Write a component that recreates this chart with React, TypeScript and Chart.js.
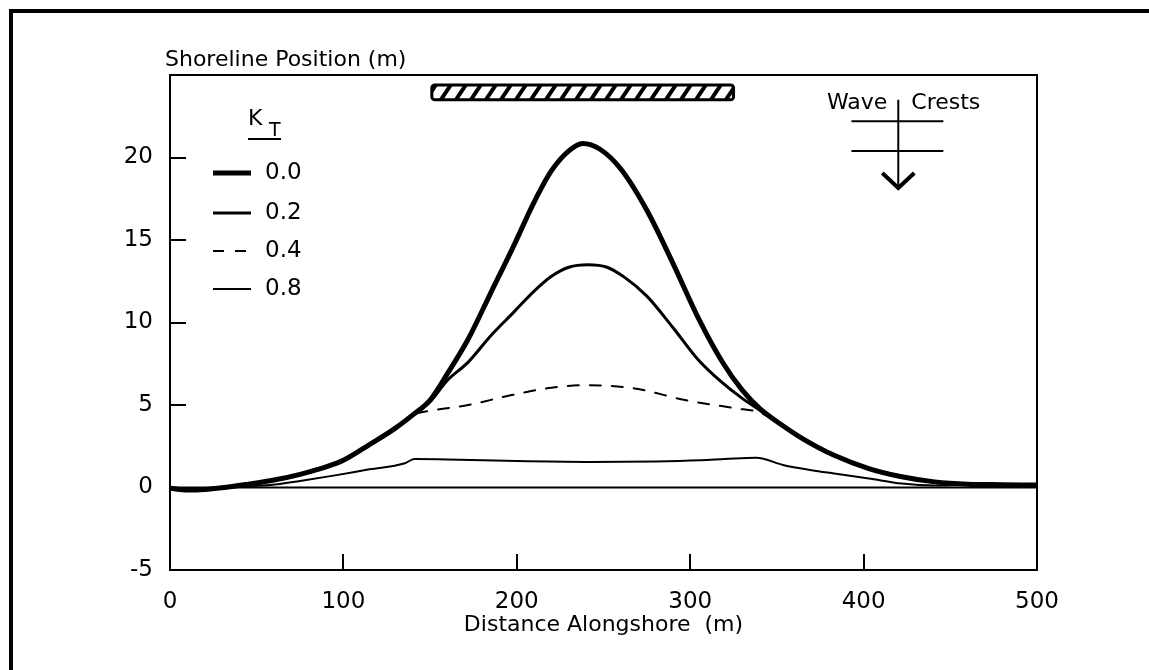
import React, { useEffect, useRef } from 'react';
import { Chart, registerables } from 'chart.js';

Chart.register(...registerables);

const FONT = '"DejaVu Sans", "Noto Sans", sans-serif';

// ---- axis ticks ----
const X_TICKS = [0, 100, 200, 300, 400, 500];
const Y_TICKS = [-5, 0, 5, 10, 15, 20];
const INNER_X_TICKS = [100, 200, 300, 400];
const INNER_Y_TICKS = [5, 10, 15, 20];

// ---- legend labels (K_T) ----
const KT_LABELS = ['0.0', '0.2', '0.4', '0.8'];

// ---- series: K_T = 0.0 ----
const X_K00 = [0, 10, 20, 30, 45, 60, 75, 90, 100, 115, 130, 140, 150, 160, 172, 185, 198, 210, 220, 230, 238, 248, 260, 275, 290, 305, 318, 330, 340, 352, 365, 383, 403, 422, 441, 460, 480, 500];
const Y_K00 = [-0.05, -0.15, -0.12, -0.02, 0.2, 0.45, 0.8, 1.25, 1.65, 2.6, 3.6, 4.4, 5.3, 6.9, 9.0, 11.8, 14.6, 17.3, 19.2, 20.4, 20.85, 20.5, 19.3, 16.8, 13.6, 10.2, 7.7, 5.9, 4.8, 3.85, 2.95, 1.95, 1.15, 0.65, 0.34, 0.2, 0.17, 0.15];

// ---- series: K_T = 0.2 ----
const X_K02 = [0, 10, 20, 30, 45, 60, 75, 90, 100, 115, 130, 140, 150, 160, 172, 185, 198, 210, 220, 230, 241, 252, 262, 275, 290, 305, 318, 330, 340, 352, 365, 383, 403, 422, 441, 460, 480, 500];
const Y_K02 = [-0.05, -0.15, -0.12, -0.02, 0.2, 0.45, 0.8, 1.25, 1.65, 2.6, 3.6, 4.4, 5.2, 6.5, 7.6, 9.2, 10.6, 11.9, 12.8, 13.35, 13.5, 13.35, 12.75, 11.6, 9.7, 7.7, 6.4, 5.4, 4.7, 3.85, 2.95, 1.95, 1.15, 0.65, 0.34, 0.2, 0.17, 0.15];

// ---- series: K_T = 0.4 ----
const X_K04 = [0, 10, 20, 30, 45, 60, 75, 90, 100, 115, 130, 140, 150, 172, 197, 220, 239, 268, 297, 326, 340, 352, 365, 383, 403, 422, 441, 460, 480, 500];
const Y_K04 = [-0.05, -0.15, -0.12, -0.02, 0.2, 0.45, 0.8, 1.25, 1.65, 2.6, 3.6, 4.4, 4.65, 5.0, 5.6, 6.05, 6.2, 6.0, 5.3, 4.8, 4.55, 3.85, 2.95, 1.95, 1.15, 0.65, 0.34, 0.2, 0.17, 0.15];

// ---- series: K_T = 0.8 ----
const X_K08 = [0, 20, 40, 58, 75, 96, 115, 135, 141, 160, 200, 240, 280, 306, 320, 338, 354, 370, 383, 403, 422, 441, 460, 480, 500];
const Y_K08 = [-0.05, -0.1, 0.05, 0.15, 0.4, 0.75, 1.1, 1.45, 1.72, 1.7, 1.6, 1.55, 1.58, 1.65, 1.72, 1.8, 1.35, 1.05, 0.85, 0.55, 0.24, 0.12, 0.15, 0.15, 0.15];

// ---- initial shoreline ----
const X_INIT = [0, 500];
const Y_INIT = [0, 0];

// ---- annotations (data coordinates) ----
const BREAKWATER_X = [151, 325];
const BREAKWATER_Y = [23.5, 24.4];
const WAVE_X = 420;
const WAVE_LINE_X = [393, 446];
const WAVE_CREST_Y = [22.2, 20.4];
const WAVE_ARROW_Y = [23.5, 18.15];

const pts = (xs: number[], ys: number[]) => xs.map((x, i) => ({ x, y: ys[i] }));

const decor = {
  id: 'decor',
  beforeDraw(chart: any) {
    const ctx = chart.ctx;
    ctx.save();
    ctx.fillStyle = '#fff';
    ctx.fillRect(0, 0, chart.width, chart.height);
    ctx.fillStyle = '#000';
    ctx.fillRect(9, 9, chart.width - 9, 4);
    ctx.fillRect(9, 9, 4, chart.height - 9);
    ctx.restore();
  },
  afterDraw(chart: any) {
    const ctx = chart.ctx;
    const a = chart.chartArea;
    const xs = chart.scales.x;
    const ys = chart.scales.y;
    ctx.save();
    ctx.strokeStyle = '#000';
    ctx.fillStyle = '#000';
    ctx.lineCap = 'butt';

    // plot frame
    ctx.lineWidth = 2;
    ctx.strokeRect(a.left, a.top, a.right - a.left, a.bottom - a.top);

    // inner ticks
    ctx.lineWidth = 2;
    ctx.beginPath();
    INNER_Y_TICKS.forEach((v) => {
      const py = Math.round(ys.getPixelForValue(v));
      ctx.moveTo(a.left, py);
      ctx.lineTo(a.left + 16, py);
    });
    INNER_X_TICKS.forEach((v) => {
      const px = Math.round(xs.getPixelForValue(v));
      ctx.moveTo(px, a.bottom);
      ctx.lineTo(px, a.bottom - 16);
    });
    ctx.stroke();

    // y title
    ctx.font = `22px ${FONT}`;
    ctx.textAlign = 'left';
    ctx.textBaseline = 'alphabetic';
    ctx.fillText('Shoreline Position (m)', a.left - 5, a.top - 9);

    // legend header K_T
    ctx.font = `22px ${FONT}`;
    ctx.fillText('K', a.left + 78, a.top + 50);
    ctx.font = `19px ${FONT}`;
    ctx.fillText('T', a.left + 99, a.top + 61);
    ctx.lineWidth = 2;
    ctx.beginPath();
    ctx.moveTo(a.left + 78, a.top + 64);
    ctx.lineTo(a.left + 111, a.top + 64);
    ctx.stroke();

    // legend entries
    const rows = [98, 138, 176, 214];
    chart.data.datasets.slice(0, 4).forEach((ds: any, i: number) => {
      const yy = a.top + rows[i];
      ctx.save();
      ctx.lineWidth = ds.borderWidth;
      ctx.setLineDash(ds.borderDash || []);
      ctx.beginPath();
      ctx.moveTo(a.left + 43, yy);
      ctx.lineTo(a.left + 81, yy);
      ctx.stroke();
      ctx.restore();
      ctx.font = `23px ${FONT}`;
      ctx.textBaseline = 'middle';
      ctx.fillText(KT_LABELS[i], a.left + 95, yy);
    });

    // breakwater
    const bx0 = xs.getPixelForValue(BREAKWATER_X[0]);
    const bx1 = xs.getPixelForValue(BREAKWATER_X[1]);
    const by0 = ys.getPixelForValue(BREAKWATER_Y[1]);
    const by1 = ys.getPixelForValue(BREAKWATER_Y[0]);
    ctx.save();
    ctx.beginPath();
    ctx.rect(bx0, by0, bx1 - bx0, by1 - by0);
    ctx.clip();
    ctx.lineWidth = 4;
    ctx.beginPath();
    for (let px = bx0 - 6; px < bx1 + 6; px += 15) {
      ctx.moveTo(px, by1);
      ctx.lineTo(px + 10, by0);
    }
    ctx.stroke();
    ctx.restore();
    ctx.lineWidth = 3;
    ctx.beginPath();
    if (ctx.roundRect) ctx.roundRect(bx0, by0, bx1 - bx0, by1 - by0, 3);
    else ctx.rect(bx0, by0, bx1 - bx0, by1 - by0);
    ctx.stroke();

    // wave crests symbol
    const wx = xs.getPixelForValue(WAVE_X);
    const wl0 = xs.getPixelForValue(WAVE_LINE_X[0]);
    const wl1 = xs.getPixelForValue(WAVE_LINE_X[1]);
    ctx.lineWidth = 2;
    ctx.beginPath();
    WAVE_CREST_Y.forEach((v) => {
      const py = ys.getPixelForValue(v);
      ctx.moveTo(wl0, py);
      ctx.lineTo(wl1, py);
    });
    const top = ys.getPixelForValue(WAVE_ARROW_Y[0]);
    const tip = ys.getPixelForValue(WAVE_ARROW_Y[1]);
    ctx.moveTo(wx, top);
    ctx.lineTo(wx, tip - 2);
    ctx.stroke();
    ctx.lineWidth = 4;
    ctx.lineJoin = 'miter';
    ctx.beginPath();
    ctx.moveTo(wx - 16, tip - 15);
    ctx.lineTo(wx, tip);
    ctx.lineTo(wx + 16, tip - 15);
    ctx.stroke();
    ctx.font = `22px ${FONT}`;
    ctx.textBaseline = 'middle';
    ctx.textAlign = 'right';
    ctx.fillText('Wave', wx - 11, top + 4);
    ctx.textAlign = 'left';
    ctx.fillText('Crests', wx + 13, top + 4);

    ctx.restore();
  },
};

export default function App() {
  const ref = useRef<HTMLCanvasElement | null>(null);

  useEffect(() => {
    document.body.style.margin = '0';
    const canvas = ref.current;
    if (!canvas) return;
    const line = (data: any, width: number, dash: number[] = []) => ({
      data,
      borderColor: '#000',
      backgroundColor: '#000',
      borderWidth: width,
      borderDash: dash,
      pointRadius: 0,
      fill: false,
      cubicInterpolationMode: 'monotone',
      borderCapStyle: 'round',
      borderJoinStyle: 'round',
    });
    const chart = new Chart(canvas, {
      type: 'line',
      data: {
        datasets: [
          { label: 'KT 0.0', ...line(pts(X_K00, Y_K00), 5) },
          { label: 'KT 0.2', ...line(pts(X_K02, Y_K02), 3) },
          { label: 'KT 0.4', ...line(pts(X_K04, Y_K04), 2, [11, 11]) },
          { label: 'KT 0.8', ...line(pts(X_K08, Y_K08), 2) },
          { label: 'initial', ...line(pts(X_INIT, Y_INIT), 2) },
        ] as any,
      },
      options: {
        animation: false,
        responsive: false,
        devicePixelRatio: 1,
        layout: { padding: { top: 75, right: 112, bottom: 0, left: 0 } },
        plugins: {
          legend: { display: false },
          tooltip: { enabled: false },
          title: { display: false },
        },
        scales: {
          x: {
            type: 'linear',
            min: 0,
            max: 500,
            afterBuildTicks: (s: any) => {
              s.ticks = X_TICKS.map((v) => ({ value: v }));
            },
            afterFit: (s: any) => {
              s.height = 100;
            },
            grid: { display: false, drawTicks: false },
            border: { display: false },
            ticks: {
              color: '#000',
              padding: 18,
              maxRotation: 0,
              font: { family: FONT, size: 23 },
            },
            title: {
              display: true,
              text: 'Distance Alongshore  (m)',
              color: '#000',
              font: { family: FONT, size: 22 },
              padding: { top: 0, bottom: 32 },
            },
          },
          y: {
            type: 'linear',
            min: -5,
            max: 25,
            afterBuildTicks: (s: any) => {
              s.ticks = Y_TICKS.map((v) => ({ value: v }));
            },
            afterFit: (s: any) => {
              s.width = 170;
            },
            grid: { display: false, drawTicks: false },
            border: { display: false },
            ticks: {
              color: '#000',
              padding: 17,
              font: { family: FONT, size: 23 },
            },
          },
        },
      } as any,
      plugins: [decor as any],
    });
    return () => chart.destroy();
  }, []);

  return (
    <div style={{ width: 1149, height: 670, position: 'relative' }}>
      <canvas ref={ref} width={1149} height={670} style={{ display: 'block' }} />
    </div>
  );
}
